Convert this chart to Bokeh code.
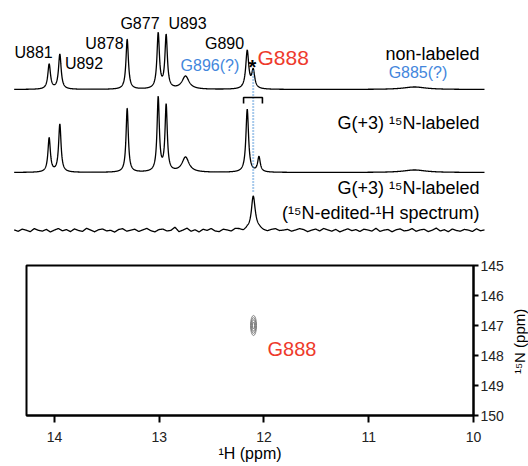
import numpy as np
from bokeh.plotting import figure
from bokeh.models import Range1d, Label, FixedTicker
from bokeh.layouts import row
from bokeh.embed import file_html
from bokeh.resources import INLINE

FONT = "Liberation Sans"

# ---------------- data ----------------
# 1D spectrum, non-labeled: peak positions (ppm), widths (ppm), heights (a.u.)
nonlab_ppm = [14.051, 13.949, 13.306, 13.010, 12.934, 12.749, 12.160, 12.103, 10.563]
nonlab_fwhm = [0.030, 0.030, 0.028, 0.028, 0.028, 0.080, 0.034, 0.034, 0.26]
nonlab_h = [25, 35, 50, 55, 53, 13, 38, 18, 2.5]

# 1D spectrum, G(+3) 15N-labeled
lab_ppm = [14.051, 13.949, 13.306, 13.010, 12.934, 12.749, 12.160, 12.048, 10.563]
lab_fwhm = [0.028, 0.028, 0.026, 0.026, 0.026, 0.080, 0.030, 0.030, 0.26]
lab_h = [34, 48, 64, 74, 66, 15, 63, 15, 2.5]

# 15N-edited 1H spectrum
edit_ppm = [12.103]
edit_fwhm = [0.045]
edit_h = [35]
edit_noise = [0.6, -0.8, 1.4, 0.3, -1.2, 1.9, 0.2, -0.6, 1.1, -1.5, 0.4, 2.0, -0.3, 0.9, -1.1, 1.6, 0.0, -0.9, 2.2, 0.5,
              -1.3, 0.8, 1.5, -0.4, 0.2, -1.6, 1.0, 1.8, -0.7, 0.3, 1.3, -1.0, 0.6, 2.1, -0.2, -1.4, 0.9, 1.4, -0.5, 0.1,
              3.3, -1.2, 0.4, 2.3, -0.8, 0.7, -1.5, 1.2, 0.0, 1.9, -0.6, -1.3, 1.1, 0.3, -0.9, 1.6, 1.0, -1.0, 0.5, -1.7,
              0.8, 1.3, -0.4, -1.1, 0.6, 1.5, -0.3, 0.2, 1.0, -0.8, 0.4, 1.8, 0.9, -1.2, 0.3, 1.4, -0.5, 2.0, 0.6, -0.7,
              1.1, -1.4, 0.2, 1.7, -0.2, 0.9, -1.0, 1.3, 0.5, -0.6, 2.2, -0.9, 0.4, 1.0, -1.3, 0.7, 1.6, -0.4, 0.1, 1.9,
              -0.8, 0.6, 1.2, -1.1, 0.3, 2.4, -0.5, 0.8, -1.2, 1.5, 0.0, -0.7, 1.1, 0.4, -1.0, 1.7, -0.3, 0.6]
spec_ppm_start, spec_ppm_end = 14.385, 9.895

# 2D 1H-15N cross peak (G888)
hsqc_h = [12.100]
hsqc_n = [147.0]
hsqc_w = [0.057]
hsqc_hgt = [0.67]
contour_levels = [1.0, 0.78, 0.56, 0.34]

x_ticks = [14, 13, 12, 11, 10]
y_ticks = [145, 146, 147, 148, 149, 150]

# ---------------- helpers ----------------
def lorentz(x, centers, fwhms, heights):
    y = np.zeros_like(x)
    for c, w, h in zip(centers, fwhms, heights):
        y += h / (1.0 + ((x - c) / (w / 2.0)) ** 2)
    return y

xs = np.linspace(spec_ppm_start, spec_ppm_end, 2400)
noise_x = np.linspace(spec_ppm_start, spec_ppm_end, len(edit_noise))
noise_dense = np.interp(xs[::-1], noise_x[::-1], np.array(edit_noise)[::-1])[::-1]

base1, base2, base3 = 169, 86, 28
tr1 = base1 + lorentz(xs, nonlab_ppm, nonlab_fwhm, nonlab_h)
tr2 = base2 + lorentz(xs, lab_ppm, lab_fwhm, lab_h)
tr3 = base3 + lorentz(xs, edit_ppm, edit_fwhm, edit_h) + noise_dense

# ---------------- top: stacked 1D spectra ----------------
top = figure(width=528, height=258, x_range=Range1d(14.5155, 9.4749), y_range=Range1d(0, 258),
             x_axis_location=None, y_axis_location=None, min_border=0,
             output_backend="svg", toolbar_location=None)
top.outline_line_color = None
top.xgrid.visible = False
top.ygrid.visible = False
top.background_fill_color = "white"
top.border_fill_color = "white"

for tr in (tr1, tr2, tr3):
    top.line(xs, tr, line_color="black", line_width=1.3)

# dotted guide at G888
top.line([12.103, 12.103], [188, 66], line_color="#4f93d8", line_width=2, line_dash="1 2")
# bracket above the labeled doublet
top.line([12.195, 12.195, 12.015, 12.015], [155, 161, 161, 155], line_color="black", line_width=1.6)

def tlabel(fig, txt, x, y, size, color="black", align="center", style="normal", angle=0.0):
    fig.add_layout(Label(x=x, y=y, text=txt, text_font=FONT, text_font_size=f"{size}px",
                         text_color=color, text_align=align, text_baseline="middle",
                         text_font_style=style, angle=angle))

RED = "#ee3a2c"
BLUE = "#4386dc"
tlabel(top, "U881", 14.200, 206, 16)
tlabel(top, "U892", 13.718, 195, 16)
tlabel(top, "U878", 13.523, 215, 16)
tlabel(top, "G877", 13.184, 235, 16)
tlabel(top, "U893", 12.730, 235, 16)
tlabel(top, "G890", 12.377, 215, 16)
tlabel(top, "G896(?)", 12.516, 193, 16, BLUE)
tlabel(top, "*", 12.110, 192, 20, style="bold")
tlabel(top, "G888", 12.062, 201, 21, RED, align="left")
tlabel(top, "non-labeled", 9.943, 205, 18, align="right")
tlabel(top, "G885(?)", 10.530, 186, 16, BLUE)
tlabel(top, "G(+3) \u00b9\u2075N-labeled", 9.943, 136, 18, align="right")
tlabel(top, "G(+3) \u00b9\u2075N-labeled", 9.943, 71, 18, align="right")
tlabel(top, "(\u00b9\u2075N-edited-\u00b9H spectrum)", 9.943, 46, 18, align="right")

# ---------------- bottom: 2D 1H-15N spectrum ----------------
bot = figure(width=506, height=208, x_range=Range1d(14.2673, 10.0), y_range=Range1d(150, 145),
             y_axis_location="right", min_border_left=26, min_border_right=33,
             min_border_top=7, min_border_bottom=51,
             output_backend="svg", toolbar_location=None)
bot.xgrid.visible = False
bot.ygrid.visible = False
bot.outline_line_color = "black"
bot.outline_line_width = 2
bot.background_fill_color = "white"
bot.border_fill_color = "white"

for ax, ticks, tlen in ((bot.xaxis[0], x_ticks, 7), (bot.yaxis[0], y_ticks, 5)):
    ax.ticker = FixedTicker(ticks=ticks)
    ax.minor_tick_line_color = None
    ax.major_tick_in = 0
    ax.major_tick_out = tlen
    ax.major_tick_line_width = 2
    ax.axis_line_width = 2
    ax.major_label_text_font = FONT
    ax.major_label_text_font_size = "14px"
    ax.major_label_text_color = "#222222"
    ax.axis_label_text_font = FONT
    ax.axis_label_text_font_style = "normal"
    ax.axis_label_text_color = "black"

bot.xaxis.major_label_standoff = 9
bot.yaxis.major_label_standoff = 2
bot.xaxis.axis_label = "\u00b9H (ppm)"
bot.xaxis.axis_label_text_font_size = "16px"
bot.xaxis.axis_label_standoff = 0

for lv in contour_levels:
    bot.ellipse(x=hsqc_h, y=hsqc_n, width=[w * lv for w in hsqc_w], height=[h * lv for h in hsqc_hgt],
                fill_color=None, line_color="#707070", line_width=0.9)

tlabel(bot, "G888", 11.967, 147.77, 20, RED, align="left")

# narrow strip to the right carrying the rotated 15N axis title (reads bottom-to-top)
ylab = figure(width=22, height=208, x_range=Range1d(0, 22), y_range=bot.y_range,
              x_axis_location=None, y_axis_location=None, min_border_left=0, min_border_right=0,
              min_border_top=7, min_border_bottom=51, output_backend="svg", toolbar_location=None)
ylab.outline_line_color = None
ylab.xgrid.visible = False
ylab.ygrid.visible = False
ylab.background_fill_color = "white"
ylab.border_fill_color = "white"
tlabel(ylab, "\u00b9\u2075N (ppm)", 12.5, 147.53, 15, angle=np.pi / 2)

p = [top, row(bot, ylab)]
open("out.html", "w").write(file_html(p, INLINE))
